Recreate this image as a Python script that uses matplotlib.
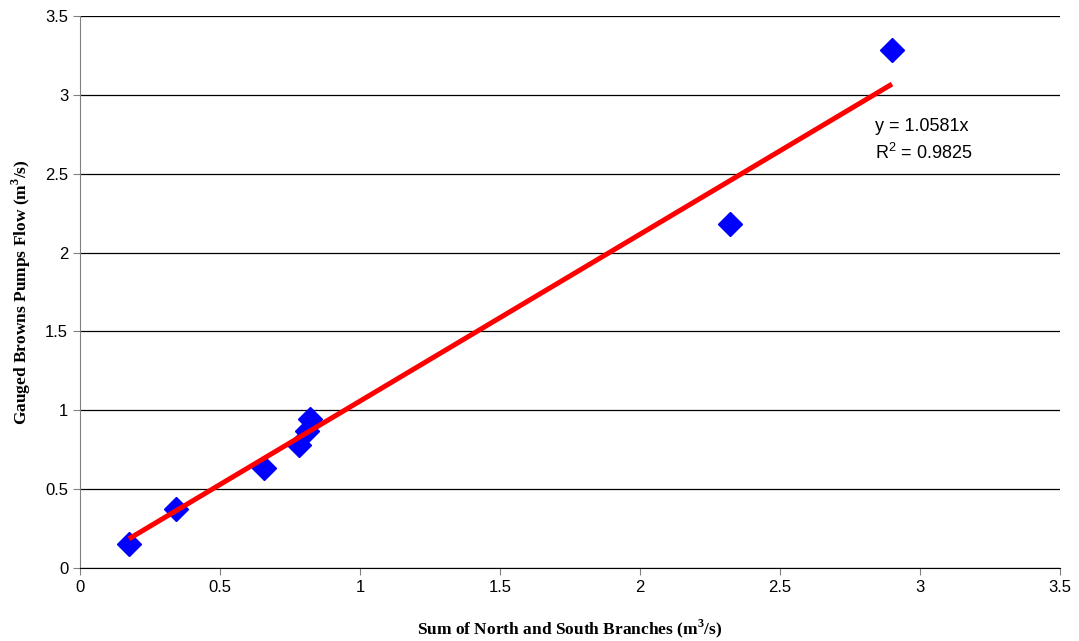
import numpy as np
import matplotlib
matplotlib.use('Agg')
import matplotlib.pyplot as plt

# Vazoes medidas (m3/s)
soma_ramos = [0.175, 0.343, 0.657, 0.781, 0.810, 0.821, 2.321, 2.900]
vazao_browns = [0.152, 0.374, 0.634, 0.783, 0.870, 0.945, 2.181, 3.285]
inclinacao = 1.0581
r2 = 0.9825

fig = plt.figure(figsize=(10.79, 6.41), dpi=100)
ax = fig.add_axes([0.0741, 0.1139, 0.9083, 0.8611])

ax.set_xlim(0, 3.5)
ax.set_ylim(0, 3.5)
ax.set_xticks(np.arange(0, 3.51, 0.5))
ax.set_yticks(np.arange(0, 3.51, 0.5))
ax.set_xticklabels(['0', '0.5', '1', '1.5', '2', '2.5', '3', '3.5'])
ax.set_yticklabels(['0', '0.5', '1', '1.5', '2', '2.5', '3', '3.5'])
ax.yaxis.grid(True, color='black', linewidth=0.9)
ax.set_axisbelow(True)

for s in ['top', 'right']:
    ax.spines[s].set_visible(False)
ax.spines['left'].set_color('#808080')
ax.spines['bottom'].set_color('black')
ax.tick_params(direction='out', length=5, color='#808080', labelsize=12)
for lbl in ax.get_xticklabels() + ax.get_yticklabels():
    lbl.set_family('Liberation Sans')

ax.plot(soma_ramos, vazao_browns, linestyle='none', marker='D', markersize=12,
        color='#0000ff', zorder=3)

# Linha de tendencia pela origem
xl = np.array([min(soma_ramos), max(soma_ramos)])
ax.plot(xl, inclinacao * xl, color='#ff0000', linewidth=3.6, zorder=4,
        solid_capstyle='butt')

ax.text(2.84, 2.80, 'y = %.4fx' % inclinacao, fontsize=13, family='Liberation Sans',
        va='center')
ax.text(2.84, 2.63, r'R$^{\mathregular{2}}$ = ' + '%.4f' % r2, fontsize=13,
        family='Liberation Sans', va='center')

ax.set_xlabel(r'Sum of North and South Branches (m$^{\mathregular{3}}$/s)', fontsize=12.5,
              family='Liberation Serif', fontweight='bold', labelpad=16)
ax.set_ylabel(r'Gauged Browns Pumps Flow (m$^{\mathregular{3}}$/s)', fontsize=12.5,
              family='Liberation Serif', fontweight='bold', labelpad=9)

fig.savefig('out.png', dpi=100)
